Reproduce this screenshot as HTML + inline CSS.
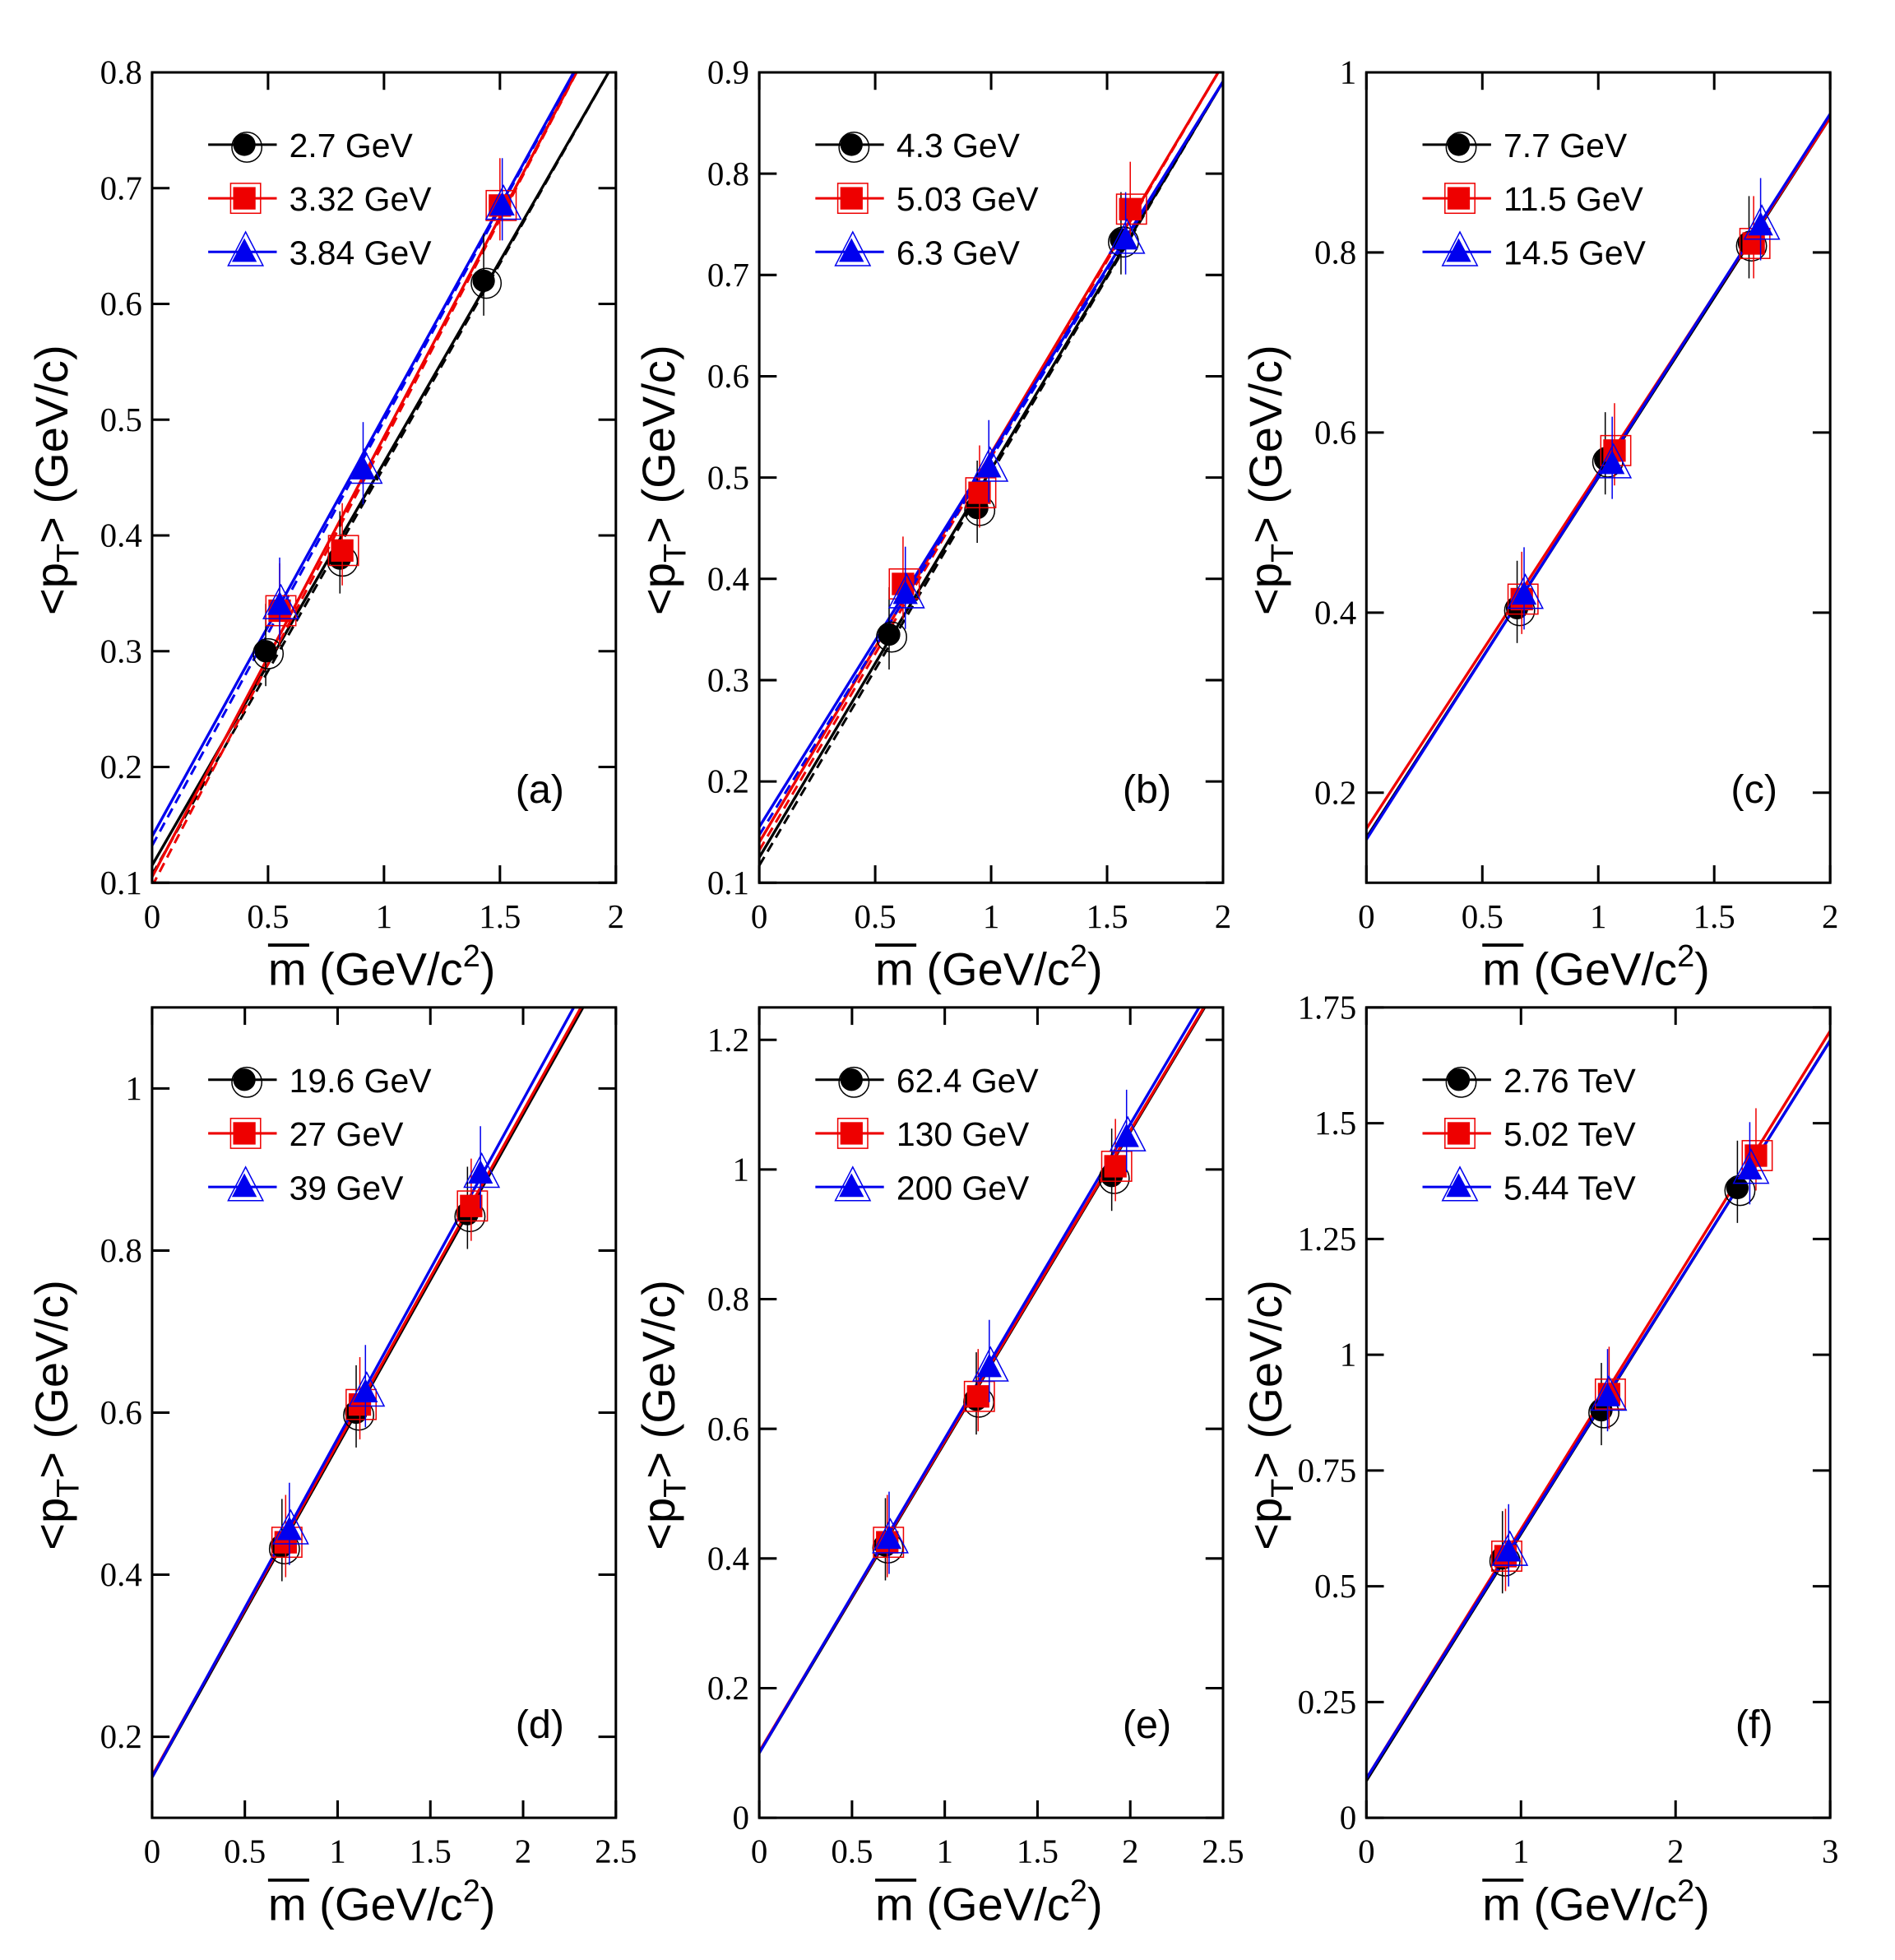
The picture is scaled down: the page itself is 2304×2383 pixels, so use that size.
<!DOCTYPE html>
<html><head><meta charset="utf-8"><style>
html,body{margin:0;padding:0;background:#fff;}
svg{display:block;}
.tk{font-family:"Liberation Serif",serif;font-size:27px;fill:#000;}
.lab{font-family:"Liberation Sans",sans-serif;font-size:37px;fill:#000;}
.tag{font-family:"Liberation Sans",sans-serif;font-size:32px;fill:#000;}
.lg{font-family:"Liberation Sans",sans-serif;font-size:27px;fill:#000;}
</style></head><body>
<svg id="s" width="2304" height="2383" viewBox="0 0 1520 1572" xmlns="http://www.w3.org/2000/svg"></svg>
<script>
const P=[
{x0:122,y0:58,xm:2,xt:[0,0.5,1,1.5,2],xl:["0","0.5","1","1.5","2"],ymin:0.1,ymax:0.8,yt:[0.1,0.2,0.3,0.4,0.5,0.6,0.7,0.8],tag:"(a)",
 leg:["2.7 GeV","3.32 GeV","3.84 GeV"],
 lines:[[0.115,0.348,"#000"],[0.105,0.38,"#e00"],[0.14,0.363,"#00e"]],dash:true,
 pts:[[[0.49,0.30],[0.81,0.38],[1.43,0.62]],[[0.55,0.335],[0.82,0.387],[1.5,0.685]],[[0.55,0.34],[0.91,0.457],[1.51,0.685]]]},
{x0:609,y0:58,xm:2,xt:[0,0.5,1,1.5,2],xl:["0","0.5","1","1.5","2"],ymin:0.1,ymax:0.9,yt:[0.1,0.2,0.3,0.4,0.5,0.6,0.7,0.8,0.9],tag:"(b)",
 leg:["4.3 GeV","5.03 GeV","6.3 GeV"],
 lines:[[0.125,0.383,"#000"],[0.14,0.384,"#e00"],[0.155,0.368,"#00e"]],dash:true,
 pts:[[[0.56,0.345],[0.94,0.47],[1.56,0.735]],[[0.62,0.395],[0.95,0.485],[1.6,0.765]],[[0.63,0.385],[0.99,0.51],[1.58,0.735]]]},
{x0:1096,y0:58,xm:2,xt:[0,0.5,1,1.5,2],xl:["0","0.5","1","1.5","2"],ymin:0.1,ymax:1,yt:[0.2,0.4,0.6,0.8,1],tag:"(c)",
 leg:["7.7 GeV","11.5 GeV","14.5 GeV"],
 lines:[[0.15,0.4,"#000"],[0.16,0.395,"#e00"],[0.148,0.403,"#00e"]],
 pts:[[[0.65,0.405],[1.03,0.57],[1.65,0.81]],[[0.67,0.415],[1.07,0.58],[1.67,0.81]],[[0.68,0.42],[1.06,0.565],[1.7,0.83]]]},
{x0:122,y0:808,xm:2.5,xt:[0,0.5,1,1.5,2,2.5],xl:["0","0.5","1","1.5","2","2.5"],ymin:0.1,ymax:1.1,yt:[0.2,0.4,0.6,0.8,1],tag:"(d)",
 leg:["19.6 GeV","27 GeV","39 GeV"],
 lines:[[0.15,0.409,"#000"],[0.152,0.41,"#e00"],[0.15,0.418,"#00e"]],
 pts:[[[0.7,0.435],[1.1,0.6],[1.7,0.845]],[[0.72,0.44],[1.12,0.61],[1.72,0.855]],[[0.74,0.455],[1.15,0.625],[1.77,0.895]]]},
{x0:609,y0:808,xm:2.5,xt:[0,0.5,1,1.5,2,2.5],xl:["0","0.5","1","1.5","2","2.5"],ymin:0,ymax:1.25,yt:[0,0.2,0.4,0.6,0.8,1,1.2],tag:"(e)",
 leg:["62.4 GeV","130 GeV","200 GeV"],
 lines:[[0.1,0.479,"#000"],[0.102,0.479,"#e00"],[0.1,0.485,"#00e"]],
 pts:[[[0.68,0.42],[1.17,0.645],[1.9,0.99]],[[0.69,0.425],[1.18,0.65],[1.92,1.005]],[[0.7,0.43],[1.24,0.695],[1.98,1.05]]]},
{x0:1096,y0:808,xm:3,xt:[0,1,2,3],xl:["0","1","2","3"],ymin:0,ymax:1.75,yt:[0,0.25,0.5,0.75,1,1.25,1.5,1.75],tag:"(f)",
 leg:["2.76 TeV","5.02 TeV","5.44 TeV"],
 lines:[[0.08,0.533,"#000"],[0.085,0.538,"#e00"],[0.085,0.531,"#00e"]],
 pts:[[[0.88,0.56],[1.52,0.88],[2.4,1.36]],[[0.9,0.565],[1.57,0.915],[2.52,1.43]],[[0.92,0.575],[1.56,0.91],[2.48,1.4]]]}
];
const W=372,H=650,cols=["#000","#e00","#00e"];
let o="";
function mk(i,x,y,c){
 let s="";
 if(i==0){s+=`<circle cx="${x+2}" cy="${y+2}" r="12" fill="none" stroke="#000" stroke-width="1"/><circle cx="${x}" cy="${y}" r="9" fill="#000"/>`;}
 else if(i==1){s+=`<rect x="${x-11}" y="${y-12}" width="24" height="24" fill="none" stroke="#e00" stroke-width="1"/><rect x="${x-9}" y="${y-9}" width="18" height="18" fill="#e00"/>`;}
 else {s+=`<polygon points="${x+1},${y-16} ${x+15},${y+11} ${x-13},${y+11}" fill="none" stroke="#00e" stroke-width="1"/><polygon points="${x},${y-11} ${x+10},${y+8} ${x-10},${y+8}" fill="#00e"/>`;}
 return s;
}
P.forEach(p=>{
 const X=v=>p.x0+v/p.xm*W, Y=v=>p.y0+H-(v-p.ymin)/(p.ymax-p.ymin)*H;
 const id="c"+p.x0+"_"+p.y0;
 o+=`<clipPath id="${id}"><rect x="${p.x0}" y="${p.y0}" width="${W}" height="${H}"/></clipPath>`;
 o+=`<g clip-path="url(#${id})">`;
 p.lines.forEach(l=>{
  o+=`<line x1="${X(0)}" y1="${Y(l[0])}" x2="${X(p.xm)}" y2="${Y(l[0]+l[1]*p.xm)}" stroke="${l[2]}" stroke-width="2.2"/>`;
  if(p.dash) o+=`<line x1="${X(0)}" y1="${Y(l[0]-0.008)}" x2="${X(p.xm)}" y2="${Y(l[0]-0.008+(l[1]+0.004)*p.xm)}" stroke="${l[2]}" stroke-width="2" stroke-dasharray="8,5"/>`;
 });
 p.pts.forEach((ser,i)=>ser.forEach(pt=>{
  const x=X(pt[0]),y=Y(pt[1]);
  o+=`<line x1="${x}" y1="${y-38}" x2="${x}" y2="${y+28}" stroke="${cols[i]}" stroke-width="1"/>`;
  o+=mk(i,x,y,cols[i]);
 }));
 o+=`</g>`;
 o+=`<rect x="${p.x0}" y="${p.y0}" width="${W}" height="${H}" fill="none" stroke="#000" stroke-width="2"/>`;
 p.yt.forEach(v=>{const y=Y(v);
  o+=`<line x1="${p.x0}" y1="${y}" x2="${p.x0+14}" y2="${y}" stroke="#000" stroke-width="2"/><line x1="${p.x0+W-14}" y1="${y}" x2="${p.x0+W}" y2="${y}" stroke="#000" stroke-width="2"/>`;
  o+=`<text class="tk" x="${p.x0-8}" y="${y+9}" text-anchor="end">${v}</text>`;});
 p.xt.forEach((v,k)=>{const x=X(v);
  o+=`<line x1="${x}" y1="${p.y0+H}" x2="${x}" y2="${p.y0+H-14}" stroke="#000" stroke-width="2"/><line x1="${x}" y1="${p.y0}" x2="${x}" y2="${p.y0+14}" stroke="#000" stroke-width="2"/>`;
  o+=`<text class="tk" x="${x}" y="${p.y0+H+36}" text-anchor="middle">${p.xl[k]}</text>`;});
 o+=`<text class="tag" x="${p.x0+311}" y="${p.y0+586}" text-anchor="middle">${p.tag}</text>`;
 p.leg.forEach((t,i)=>{const y=p.y0+58+i*43, lx=p.x0+45;
  o+=`<line x1="${lx}" y1="${y}" x2="${lx+55}" y2="${y}" stroke="${cols[i]}" stroke-width="2"/>`;
  o+=mk(i,lx+29,y,cols[i]);
  o+=`<text class="lg" x="${lx+65}" y="${y+10}">${t}</text>`;});
 const cy=p.y0+327, lx=p.x0-68;
 o+=`<text class="lab" transform="translate(${lx},${cy}) rotate(-90)" text-anchor="middle">&lt;p<tspan font-size="25" dy="9">T</tspan><tspan dy="-9">&gt; (GeV/c)</tspan></text>`;
 const mx=p.x0+93, my=p.y0+H+82;
 o+=`<text class="lab" x="${mx}" y="${my}">m (GeV/c<tspan font-size="25" dy="-15">2</tspan><tspan dy="15">)</tspan></text>`;
 o+=`<line x1="${mx}" y1="${my-32}" x2="${mx+33}" y2="${my-32}" stroke="#000" stroke-width="2.5"/>`;
});
document.getElementById("s").innerHTML=o;
</script>
</body></html>
